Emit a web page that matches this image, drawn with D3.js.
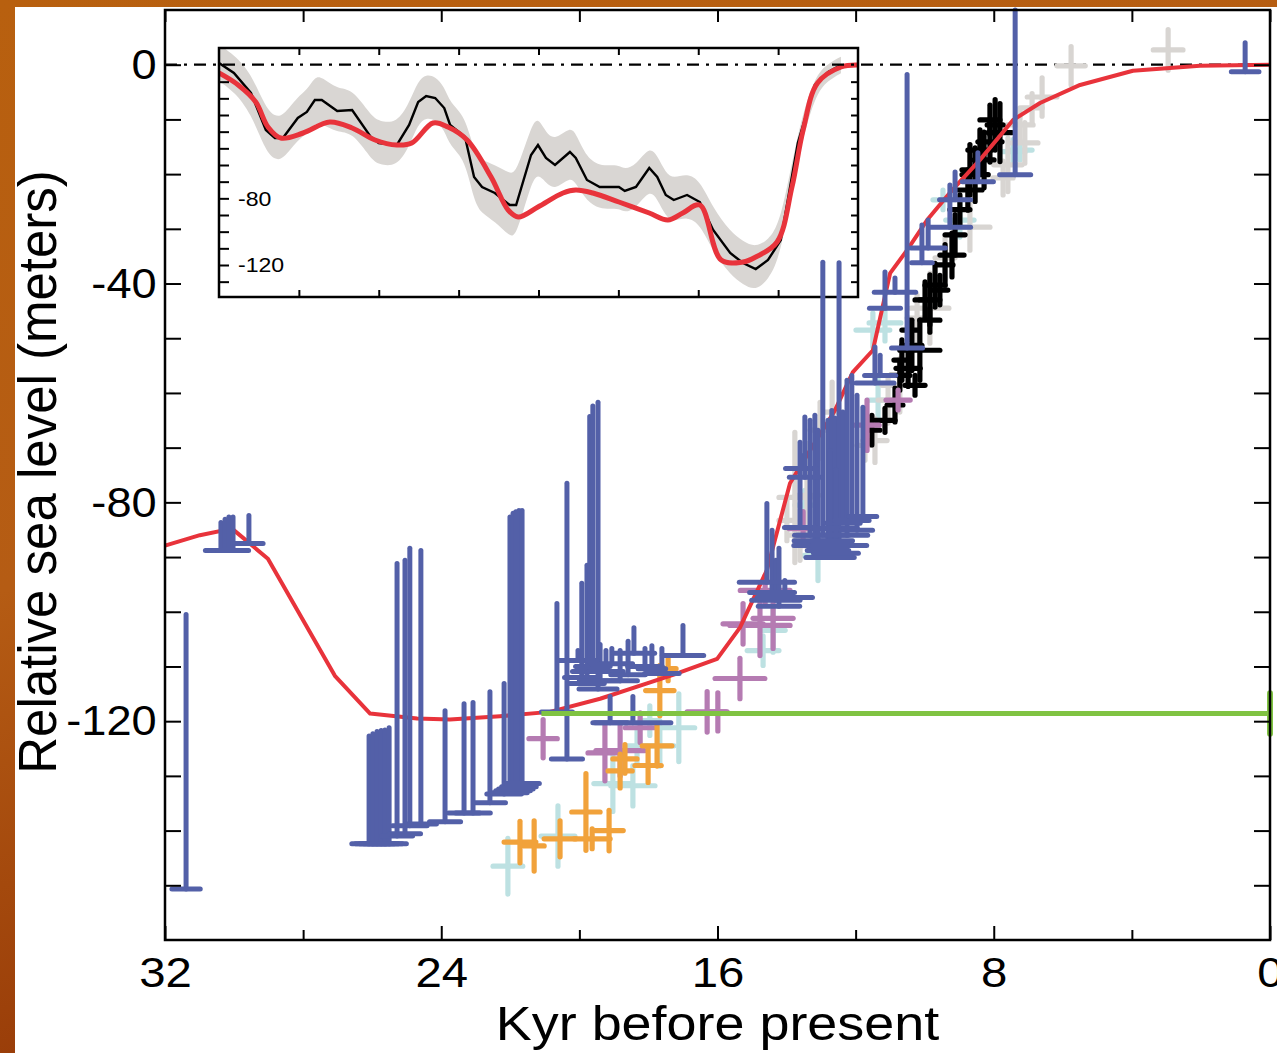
<!DOCTYPE html>
<html>
  <head lang="en">
    <meta charset="utf-8">
    <title>Relative sea level since 32 kyr</title>
    <script type="text/javascript" src="https://cdn.jsdelivr.net/npm/d3@7/dist/d3.min.js"></script>
    <style>
      body { margin: 0; background: #ffffff; }
      text { font-family: "Liberation Sans", Arial, sans-serif; fill: #000; }
    </style>
  </head>
  <body>
    <script type="text/javascript">

      // tick labels
      var xTickKyr = [32, 24, 16, 8, 0];
      var yTickMeters = [0, -40, -80, -120];
      var insetTickLabels = [-80, -120];

      // red model curve (kyr, meters)
      var redAge = [32, 30.99, 30.06, 29.02, 27.08, 26.06, 24.70, 23.75, 22.30, 20.85, 19.40, 18.04, 17.09, 16.01,
                    15.35, 14.57, 13.90, 13.32, 12.60, 12.08, 11.50, 11.00, 10.51, 9.93, 9.27, 8.40, 7.44, 6.66,
                    5.50, 3.97, 2.03, 0];
      var redLevel = [-87.9, -86.0, -84.8, -90.3, -111.7, -118.6, -119.5, -119.7, -119.1, -118.3, -115.9, -113.1, -111.1, -108.6,
                      -102.9, -92.4, -76.5, -70.5, -63.2, -56.2, -52.2, -38.1, -33.9, -28.4, -23.4, -17.4, -10.1, -7.0,
                      -3.7, -1.1, -0.2, 0];

      // blue coral bars: [age, age error, lower depth, upper depth]
      var coralBars = [
        [31.39, 0.41, -150.7, -100.5], [30.38, 0.45, -88.8, -83.7], [30.26, 0.45, -88.8, -83.1],
        [30.15, 0.45, -88.8, -82.7], [30.03, 0.45, -88.8, -82.7], [29.57, 0.41, -87.5, -82.4],
        [26.09, 0.5, -142.4, -122.7], [25.98, 0.5, -142.4, -122.3], [25.86, 0.5, -142.4, -121.9],
        [25.74, 0.5, -142.4, -121.7], [25.63, 0.5, -142.4, -121.6], [25.51, 0.5, -142.4, -121.2],
        [25.28, 0.45, -141.0, -91.2], [25.05, 0.45, -140.6, -90.6], [24.91, 0.5, -139.1, -88.4],
        [24.59, 0.45, -138.8, -88.8], [23.89, 0.45, -138.4, -118.1], [23.34, 0.45, -136.8, -116.8],
        [23.08, 0.5, -136.8, -116.6], [22.59, 0.45, -134.9, -114.6], [22.18, 0.5, -133.3, -113.1],
        [22.01, 0.5, -133.1, -82.7], [21.92, 0.5, -132.7, -82.0], [21.84, 0.5, -132.4, -81.7],
        [21.75, 0.5, -132.0, -81.5], [21.66, 0.5, -131.4, -81.5], [20.65, 0.45, -118.3, -98.5],
        [20.36, 0.45, -126.9, -76.5], [19.93, 0.5, -112.0, -94.8], [19.78, 0.5, -113.1, -91.5],
        [19.70, 0.5, -110.9, -64.3], [19.61, 0.5, -110.0, -62.4], [19.46, 0.55, -114.1, -61.7],
        [19.40, 0.6, -112.6, -106.0], [19.23, 0.5, -110.9, -107.1], [19.06, 0.6, -109.5, -106.7],
        [18.82, 0.5, -112.6, -107.1], [18.59, 0.5, -111.5, -105.4], [18.42, 0.6, -107.6, -102.9],
        [18.10, 0.5, -110.0, -106.7], [17.90, 0.4, -110.4, -106.2], [17.61, 0.5, -111.3, -106.7],
        [17.00, 0.6, -108.0, -102.5], [19.11, 0.5, -120.3, -115.5], [18.45, 1.1, -120.3, -115.5],
        [20.04, 0.55, -108.9, -107.1],
        [14.57, 0.8, -94.6, -80.2], [14.42, 0.65, -96.5, -85.1], [14.31, 0.7, -97.9, -90.6],
        [14.22, 0.6, -99.0, -88.4], [14.05, 0.8, -97.4, -94.3], [13.61, 0.45, -84.6, -69.0],
        [13.47, 0.45, -75.4, -64.4], [13.58, 0.45, -73.8, -71.4], [13.32, 0.45, -86.0, -65.0],
        [13.18, 0.6, -87.0, -64.1], [13.09, 0.7, -87.9, -66.8], [12.95, 0.75, -86.0, -36.1],
        [12.80, 0.6, -88.8, -65.0], [12.69, 0.6, -87.0, -63.2], [12.60, 0.65, -84.8, -64.6],
        [12.48, 0.8, -87.9, -36.2], [12.37, 0.5, -83.8, -63.5], [12.25, 0.6, -86.0, -57.7],
        [12.11, 0.5, -83.3, -56.8], [11.96, 0.45, -85.1, -60.4], [11.79, 0.4, -82.6, -62.6],
        [12.74, 0.7, -90.1, -70.5], [12.57, 0.65, -89.3, -74.1],
        [10.51, 0.45, -51.8, -1.8], [11.44, 0.55, -58.2, -51.6], [11.29, 0.45, -56.8, -53.1],
        [11.15, 0.45, -44.5, -37.9], [10.86, 0.6, -41.6, -39.0], [10.08, 0.3, -36.2, -29.3],
        [9.90, 0.5, -33.5, -28.4], [9.12, 0.45, -24.7, -19.6], [9.27, 0.6, -29.7, -22.0],
        [8.46, 0.45, -21.4, -16.1], [7.38, 0.45, -20.1, 10], [0.72, 0.4, -1.3, 4.0]
      ];

      // error crosses: [age, age error, level, level error]
      var blackCrosses = [
        [7.82, 0.35, -12.4, 5.3], [8.11, 0.35, -14.1, 3.7], [8.28, 0.29, -17.4, 5.1], [8.54, 0.38, -20.1, 4.9],
        [8.75, 0.41, -22.9, 3.7], [8.98, 0.29, -26.5, 2.7], [9.21, 0.35, -34.8, 4.0], [9.41, 0.23, -36.6, 3.7],
        [9.70, 0.29, -40.3, 4.0], [9.99, 0.29, -43.0, 3.3], [9.56, 0.23, -41.2, 2.7], [10.14, 0.58, -52.2, 5.5],
        [10.48, 0.35, -55.5, 3.3], [10.72, 0.29, -56.8, 2.7], [10.86, 0.23, -62.2, 3.1], [11.15, 0.29, -65.0, 2.2],
        [10.43, 0.23, -48.5, 1.8], [9.85, 0.29, -46.7, 2.2], [10.28, 0.29, -58.6, 1.8], [8.11, 0.29, -10.1, 2.7],
        [11.53, 0.23, -66.8, 2.7], [7.96, 0.23, -11.0, 4.6], [8.40, 0.35, -15.6, 3.7], [8.69, 0.23, -19.2, 4.6],
        [9.12, 0.29, -31.1, 3.7], [9.85, 0.29, -43.0, 4.6], [10.37, 0.29, -51.3, 4.6], [10.66, 0.23, -54.0, 3.7]
      ];
      var grayCrosses = [
        [2.95, 0.43, 2.7, 3.7], [5.76, 0.41, -0.2, 3.5], [6.60, 0.43, -5.9, 3.5], [6.89, 0.29, -7.9, 2.6],
        [7.24, 0.38, -11.0, 3.1], [7.59, 0.41, -18.3, 4.9], [7.10, 0.38, -14.3, 3.7], [7.73, 0.29, -20.7, 3.1],
        [8.69, 0.58, -29.7, 4.2], [9.41, 0.29, -35.3, 4.0], [9.85, 0.55, -44.5, 6.4], [10.22, 0.29, -46.3, 4.2],
        [10.72, 0.52, -58.6, 4.9], [11.06, 0.29, -61.3, 4.2], [11.44, 0.35, -68.7, 4.0], [12.68, 0.29, -63.5, 5.5],
        [13.03, 0.29, -66.8, 5.1], [13.41, 0.35, -78.7, 9.5], [13.76, 0.46, -79.1, 11.9], [13.61, 0.29, -86.0, 4.6],
        [13.99, 0.23, -83.3, 3.7], [11.73, 0.23, -69.6, 2.7]
      ];
      var cyanCrosses = [
        [22.07, 0.43, -146.5, 5.1], [20.62, 0.49, -141.0, 5.5], [19.03, 0.55, -131.4, 5.1], [18.45, 0.64, -131.8, 3.7],
        [18.33, 0.29, -124.5, 3.3], [17.67, 0.41, -124.5, 3.7], [17.12, 0.46, -121.2, 6.2], [17.96, 0.29, -119.9, 2.7],
        [14.68, 0.46, -107.1, 2.7], [14.39, 0.35, -103.4, 4.0], [13.09, 0.41, -89.7, 4.6], [13.47, 0.29, -80.5, 2.7],
        [11.15, 0.46, -47.2, 3.3], [11.35, 0.29, -61.3, 4.0], [8.98, 0.41, -28.4, 3.1], [9.47, 0.29, -24.7, 1.8],
        [7.44, 0.35, -15.9, 2.2], [7.24, 0.35, -15.6, 1.8], [11.50, 0.49, -48.5, 3.1]
      ];
      var purpleCrosses = [
        [21.05, 0.41, -123.2, 3.5], [19.26, 0.49, -125.8, 5.1], [18.82, 0.70, -125.4, 4.6], [18.24, 0.43, -121.2, 2.7],
        [16.30, 0.58, -118.3, 3.7], [15.99, 0.23, -118.3, 3.5], [15.35, 0.72, -112.2, 3.7], [15.26, 0.58, -102.2, 3.7],
        [14.77, 0.87, -102.5, 5.5], [14.39, 0.58, -101.2, 5.5], [14.62, 0.72, -96.1, 2.7], [13.52, 0.41, -84.8, 3.1],
        [11.67, 0.35, -65.9, 4.6], [10.77, 0.35, -61.3, 1.8]
      ];
      var orangeCrosses = [
        [21.72, 0.46, -142.1, 3.8], [21.31, 0.29, -142.8, 4.6], [20.56, 0.46, -141.5, 3.3], [19.81, 0.41, -136.6, 7.0],
        [19.63, 0.52, -141.5, 1.8], [19.14, 0.41, -140.0, 3.7], [18.82, 0.35, -129.1, 3.1], [18.68, 0.35, -126.9, 2.6],
        [18.01, 0.38, -128.1, 3.1], [17.75, 0.43, -124.5, 3.7], [17.67, 0.41, -114.4, 4.6], [17.43, 0.23, -110.4, 2.2]
      ];

      // green LGM level bar
      var greenAge = [21.1, 0];
      var greenLevel = -118.6;
      var greenErr = 3.7;

      // inset: longer record (kyr, meters)
      var insetBlackAge = [120, 117.2, 114.0, 111.2, 109.5, 108.0, 105.2, 103.5, 102.0, 100.7, 97.8, 95.0, 91.5, 90.0,
                           86.6, 84.3, 82.6, 81.1, 79.4, 77.7, 76.6, 73.8, 72.1, 70.6, 68.2, 65.4, 64.2, 61.4, 60.1,
                           58.6, 56.9, 54.1, 53.0, 50.9, 48.5, 46.6, 44.9, 43.8, 41.7, 39.2, 37.7, 36.1, 34.6, 32.1,
                           29.7, 27.2, 24.0, 21.6, 19.2, 16.9, 14.5, 11.3, 8.1, 5.6, 3.2];
      var insetBlackLevel = [1.2, -4.8, -16.8, -39, -43.8, -43.8, -31.8, -28.2, -21, -21, -27.6, -27, -43.2, -46.8,
                             -48, -36, -22.2, -18.6, -19.8, -25.8, -36, -43.2, -67.2, -73.2, -76.8, -84, -84, -54, -48,
                             -55.8, -60, -52.2, -55.8, -69, -73.2, -73.2, -73.2, -75.6, -73.2, -61.8, -67.2, -78, -81, -78,
                             -82.2, -99, -112.8, -118.8, -122.4, -117, -105, -46.8, -12, -4.2, 0];
      var insetBandErr = [11, 11, 12, 13, 13, 13, 13, 13, 14, 14, 13, 13, 13, 13,
                          13, 13, 13, 13, 13, 13, 13, 13, 15, 16, 17, 19, 19, 17, 17,
                          15, 15, 15, 15, 13, 13, 13, 13, 13, 13, 13, 13, 13, 13, 13,
                          13, 13, 13, 13, 13, 12, 10, 8, 6, 5, 5];
      var insetRedAge = [120, 116.4, 113.1, 110.8, 108.4, 104.2, 99.2, 95.0, 90.7, 86.6, 83.8, 79.8, 77.0, 73.4, 68.9,
                         65.7, 63.8, 60.1, 55.4, 53.0, 49.8, 44.9, 39.2, 35.7, 32.9, 29.7, 25.7, 21.6, 19.2, 15.2,
                         12.4, 10.3, 7.6, 3.2, 0];
      var insetRedLevel = [-4.8, -12, -22.2, -37.2, -43.8, -40.8, -34.2, -37.8, -45, -48, -46.8, -34.8, -37.2, -45, -67.2,
                           -87, -91.2, -85.2, -76.8, -75, -76.8, -82.2, -88.8, -93, -88.8, -84, -117, -118.2, -115.2, -106.2,
                           -73.2, -39, -10.8, -1.2, 0];

      var width = 1277, height = 1053;
      var plot = {left: 165, right: 1270, top: 10, bottom: 940};
      var inset = {left: 219, right: 858, top: 48, bottom: 297};

      var svg = d3.select("body").append("svg")
                  .attr("width", width)
                  .attr("height", height);

      // brown slide border on top and left
      var grad = svg.append("defs").append("linearGradient")
                    .attr("id", "border").attr("x1", 0).attr("y1", 0).attr("x2", 0.35).attr("y2", 1);
      grad.append("stop").attr("offset", "0%").attr("stop-color", "#b8600f");
      grad.append("stop").attr("offset", "50%").attr("stop-color", "#b55c14");
      grad.append("stop").attr("offset", "100%").attr("stop-color", "#933606");
      svg.append("rect").attr("width", width).attr("height", height).attr("fill", "url(#border)");
      svg.append("rect").attr("x", 15).attr("y", 7).attr("width", width - 15).attr("height", height - 7)
         .attr("fill", "#ffffff");

      var xScale = d3.scaleLinear().domain([32, 0]).range([plot.left, plot.right]);
      var yScale = d3.scaleLinear().domain([-160, 10]).range([plot.bottom, plot.top]);

      var xInset = d3.scaleLinear().domain([120, 0]).range([inset.left, inset.right]);
      var yInset = d3.scaleLinear().domain([-139.2, 10.2]).range([inset.bottom, inset.top]);

      // ---------- inset ----------
      svg.append("clipPath").attr("id", "insetclip").append("rect")
         .attr("x", inset.left).attr("y", inset.top)
         .attr("width", inset.right - inset.left).attr("height", inset.bottom - inset.top);

      var insetG = svg.append("g").attr("clip-path", "url(#insetclip)");

      var band = d3.area()
                   .x(function(d, i) { return xInset(insetBlackAge[i]); })
                   .y0(function(d, i) { return yInset(insetBlackLevel[i] - insetBandErr[i]); })
                   .y1(function(d, i) { return yInset(insetBlackLevel[i] + insetBandErr[i]); })
                   .curve(d3.curveBasis);
      insetG.append("path").datum(insetBlackAge).attr("d", band).attr("fill", "#d9d6d3");

      // zero line across the whole plot
      svg.append("line")
         .attr("x1", plot.left).attr("x2", plot.right)
         .attr("y1", yScale(0)).attr("y2", yScale(0))
         .attr("stroke", "#000").attr("stroke-width", 2.2)
         .attr("stroke-dasharray", "12,7,3,7");

      var insetBlackLine = d3.line()
                             .x(function(d, i) { return xInset(insetBlackAge[i]); })
                             .y(function(d, i) { return yInset(insetBlackLevel[i]); });
      insetG.append("path").datum(insetBlackAge).attr("d", insetBlackLine)
            .attr("fill", "none").attr("stroke", "#000").attr("stroke-width", 2.4);

      var insetRedLine = d3.line()
                           .x(function(d, i) { return xInset(insetRedAge[i]); })
                           .y(function(d, i) { return yInset(insetRedLevel[i]); })
                           .curve(d3.curveCatmullRom);
      insetG.append("path").datum(insetRedAge).attr("d", insetRedLine)
            .attr("fill", "none").attr("stroke", "#e8333b").attr("stroke-width", 5);

      // inset axes (ticks inward)
      svg.append("g").attr("transform", "translate(0," + inset.top + ")")
         .call(d3.axisTop(xInset).tickValues(d3.range(15, 120, 15)).tickSize(-7).tickFormat(""));
      svg.append("g").attr("transform", "translate(0," + inset.bottom + ")")
         .call(d3.axisBottom(xInset).tickValues(d3.range(15, 120, 15)).tickSize(-7).tickFormat(""));
      svg.append("g").attr("transform", "translate(" + inset.left + ",0)")
         .call(d3.axisLeft(yInset).tickValues(d3.range(-10, -131, -10)).tickSize(-10).tickFormat(""));
      svg.append("g").attr("transform", "translate(" + inset.right + ",0)")
         .call(d3.axisRight(yInset).tickValues(d3.range(-10, -131, -10)).tickSize(-7).tickFormat(""));

      svg.append("rect")
         .attr("x", inset.left).attr("y", inset.top)
         .attr("width", inset.right - inset.left).attr("height", inset.bottom - inset.top)
         .attr("fill", "none").attr("stroke", "#000").attr("stroke-width", 2.5);

      svg.selectAll(".insetlabel")
         .data(insetTickLabels)
         .enter()
         .append("text")
         .attr("class", "insetlabel")
         .attr("transform", function(d) { return "translate(238," + yInset(d) + ") scale(1.1,1)"; })
         .attr("dy", "0.35em")
         .style("font-size", "21px")
         .text(function(d) { return String(d); });

      // ---------- main data ----------
      function drawCrosses(data, color) {
        var g = svg.append("g")
                   .attr("stroke", color)
                   .attr("stroke-width", 5.2)
                   .attr("stroke-linecap", "round");
        g.selectAll(null).data(data).enter().append("line")
         .attr("x1", function(d) { return xScale(d[0] + d[1]); })
         .attr("x2", function(d) { return xScale(d[0] - d[1]); })
         .attr("y1", function(d) { return yScale(d[2]); })
         .attr("y2", function(d) { return yScale(d[2]); });
        g.selectAll(null).data(data).enter().append("line")
         .attr("x1", function(d) { return xScale(d[0]); })
         .attr("x2", function(d) { return xScale(d[0]); })
         .attr("y1", function(d) { return yScale(d[2] - d[3]); })
         .attr("y2", function(d) { return yScale(d[2] + d[3]); });
      }

      drawCrosses(cyanCrosses, "#bde1e2");
      drawCrosses(grayCrosses, "#d8d5d2");
      drawCrosses(blackCrosses, "#000000");
      drawCrosses(purpleCrosses, "#b57bb2");
      drawCrosses(orangeCrosses, "#f1a23b");

      // red curve
      var redLine = d3.line()
                      .x(function(d, i) { return xScale(redAge[i]); })
                      .y(function(d, i) { return yScale(redLevel[i]); });
      svg.append("path").datum(redAge).attr("d", redLine)
         .attr("fill", "none").attr("stroke", "#e8333b").attr("stroke-width", 4)
         .attr("stroke-linejoin", "round");

      // blue bars with cap at the lower end
      var blue = svg.append("g")
                    .attr("stroke", "#5360a8")
                    .attr("stroke-width", 5)
                    .attr("stroke-linecap", "round");
      blue.selectAll(null).data(coralBars).enter().append("line")
          .attr("x1", function(d) { return xScale(d[0]); })
          .attr("x2", function(d) { return xScale(d[0]); })
          .attr("y1", function(d) { return yScale(d[2]); })
          .attr("y2", function(d) { return yScale(d[3]); });
      blue.selectAll(null).data(coralBars).enter().append("line")
          .attr("x1", function(d) { return xScale(d[0] + d[1]); })
          .attr("x2", function(d) { return xScale(d[0] - d[1]); })
          .attr("y1", function(d) { return yScale(d[2]); })
          .attr("y2", function(d) { return yScale(d[2]); });

      // green bar
      svg.append("line")
         .attr("x1", xScale(greenAge[0])).attr("x2", xScale(greenAge[1]))
         .attr("y1", yScale(greenLevel)).attr("y2", yScale(greenLevel))
         .attr("stroke", "#80c342").attr("stroke-width", 5);
      svg.append("line")
         .attr("x1", xScale(greenAge[1])).attr("x2", xScale(greenAge[1]))
         .attr("y1", yScale(greenLevel - greenErr)).attr("y2", yScale(greenLevel + greenErr))
         .attr("stroke", "#80c342").attr("stroke-width", 6).attr("stroke-linecap", "round");

      // ---------- main axes ----------
      var fourKyr = d3.range(0, 33, 4);

      var xAxis = svg.append("g")
                     .attr("transform", "translate(0," + plot.bottom + ")")
                     .call(d3.axisBottom(xScale).tickValues(xTickKyr).tickSize(-14).tickPadding(16)
                           .tickFormat(function(d) { return String(d); }));
      svg.append("g")
         .attr("transform", "translate(0," + plot.bottom + ")")
         .call(d3.axisBottom(xScale).tickValues(fourKyr.filter(function(d) { return d % 8 != 0; }))
               .tickSize(-10).tickFormat(""));
      svg.append("g")
         .attr("transform", "translate(0," + plot.top + ")")
         .call(d3.axisTop(xScale).tickValues(fourKyr).tickSize(-12).tickFormat(""));

      var yAxis = svg.append("g")
                     .attr("transform", "translate(" + plot.left + ",0)")
                     .call(d3.axisLeft(yScale).tickValues(d3.range(0, -151, -10)).tickSize(-16).tickPadding(8)
                           .tickFormat(function(d) { return yTickMeters.indexOf(d) >= 0 ? String(d) : ""; }));
      svg.append("g")
         .attr("transform", "translate(" + plot.right + ",0)")
         .call(d3.axisRight(yScale).tickValues(d3.range(0, -151, -10)).tickSize(-16).tickFormat(""));

      svg.selectAll(".domain").remove();
      svg.selectAll(".tick line").attr("stroke", "#000").attr("stroke-width", 2);

      xAxis.selectAll("text")
           .attr("transform", "scale(1.1,1)")
           .style("font-size", "43px")
           .style("font-family", "'Liberation Sans', Arial, sans-serif")
           .attr("fill", "#000");
      yAxis.selectAll("text")
           .attr("transform", "scale(1.05,1)")
           .style("font-size", "43px")
           .style("font-family", "'Liberation Sans', Arial, sans-serif")
           .attr("fill", "#000");

      svg.append("rect")
         .attr("x", plot.left).attr("y", plot.top)
         .attr("width", plot.right - plot.left).attr("height", plot.bottom - plot.top)
         .attr("fill", "none").attr("stroke", "#000").attr("stroke-width", 2.5);

      // axis titles
      svg.append("text")
         .attr("transform", "translate(" + ((plot.left + plot.right) / 2) + ",1040) scale(1.1,1)")
         .attr("text-anchor", "middle")
         .style("font-size", "49px")
         .text("Kyr before present");

      svg.append("text")
         .attr("transform", "translate(56," + ((plot.top + plot.bottom) / 2 - 3) + ") scale(1.05,1) rotate(-90)")
         .attr("text-anchor", "middle")
         .style("font-size", "51px")
         .text("Relative sea level (meters)");
    </script>
  </body>
</html>
